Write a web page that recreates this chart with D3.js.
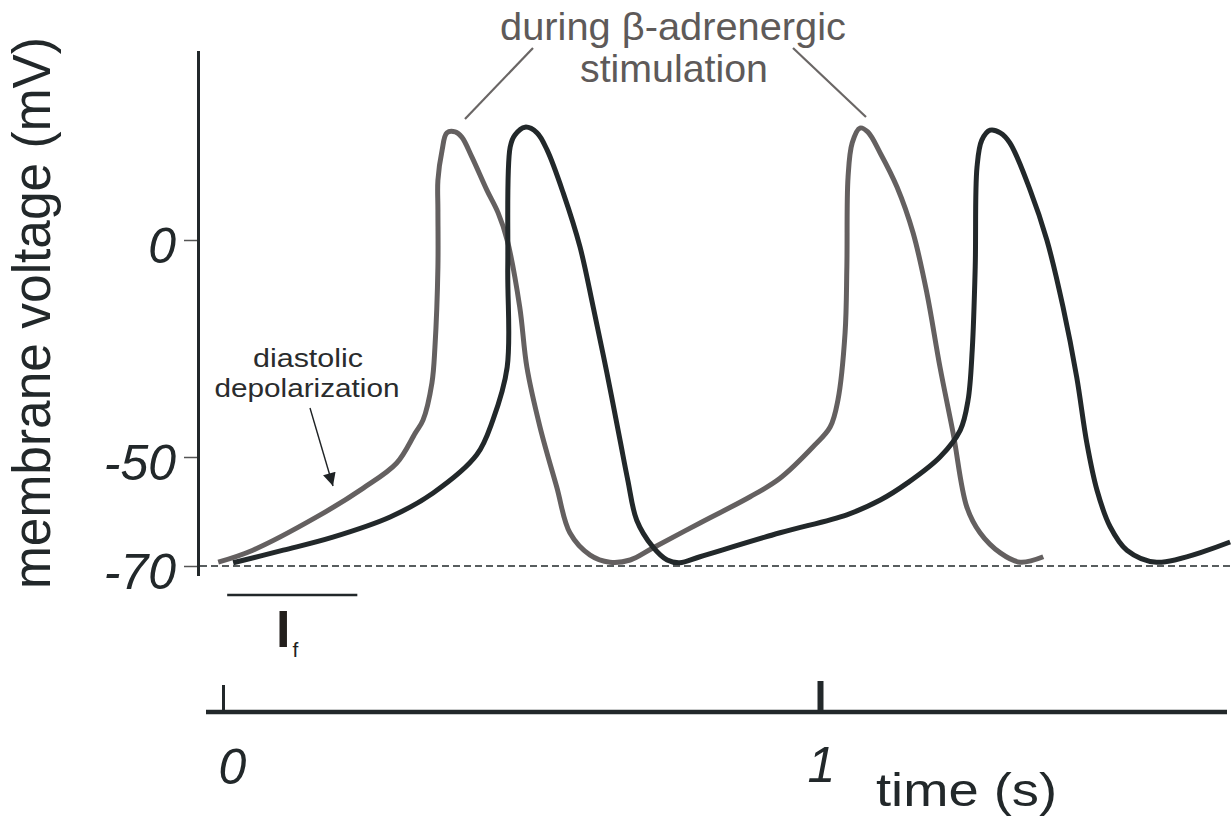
<!DOCTYPE html>
<html>
<head>
<meta charset="utf-8">
<script src="https://cdn.jsdelivr.net/npm/d3@7"></script>
<style>
  body { margin: 0; background: #fff; }
  svg { display: block; font-family: "Liberation Sans", Arial, sans-serif; }
</style>
</head>
<body>
<script>
// data (time in s, voltage in mV)

const betaTime = [-0.008, 0.050, 0.157, 0.235, 0.291, 0.322, 0.335, 0.350, 0.355, 0.360, 0.360, 0.360, 0.367, 0.375, 0.389, 0.400, 0.417, 0.442, 0.461, 0.476, 0.497, 0.509, 0.531, 0.559, 0.581, 0.615, 0.648, 0.682, 0.720, 0.799, 0.883, 0.933, 0.988, 1.017, 1.030, 1.042, 1.045, 1.047, 1.054, 1.067, 1.080, 1.101, 1.129, 1.156, 1.179, 1.201, 1.223, 1.246, 1.268, 1.302, 1.335, 1.374]
const betaVoltage = [-69.3, -67.1, -61.0, -55.7, -51.1, -44.5, -41.5, -32.9, -24.7, -6.2, 6.9, 13.8, 20.7, 24.7, 24.9, 23.7, 19.1, 11.5, 6.2, 0, -15.4, -29.3, -43.1, -55.5, -63.9, -68.0, -69.3, -68.9, -66.7, -62.1, -57.3, -53.9, -47.7, -43.1, -36.9, -21.4, -6.2, 14.5, 22.4, 25.8, 24.9, 20.0, 12.2, 1.6, -12.2, -29.3, -44.5, -59.2, -63.9, -67.6, -69.3, -68.3]

const controlTime = [0.017, 0.101, 0.184, 0.280, 0.352, 0.425, 0.452, 0.476, 0.477, 0.481, 0.489, 0.506, 0.526, 0.543, 0.570, 0.598, 0.620, 0.643, 0.665, 0.678, 0.693, 0.720, 0.744, 0.765, 0.799, 0.933, 1.045, 1.101, 1.146, 1.201, 1.235, 1.248, 1.255, 1.260, 1.263, 1.271, 1.285, 1.302, 1.318, 1.352, 1.380, 1.407, 1.430, 1.447, 1.464, 1.486, 1.514, 1.564, 1.687]
const controlVoltage = [-69.4, -67.1, -64.7, -61.0, -56.6, -49.5, -41.5, -29.3, -6.2, 21.4, 24.2, 26.0, 24.7, 20.7, 10.8, -1.6, -15.4, -30.6, -46.1, -54.2, -61.6, -66.5, -68.9, -69.4, -68.3, -63.9, -60.6, -57.9, -54.8, -50.0, -43.8, -36.9, -25.3, -6.2, 16.8, 23.0, 25.3, 24.7, 22.4, 11.5, 0, -15.4, -31.6, -46.8, -56.1, -62.8, -67.1, -69.3, -65.6]

const yTickValues = [0, -50, -70]
const xTickValues = [0, 1]
const restingPotential = -70

const W = 1231, H = 820
const dark = "#22282a", grey = "#646060"

const svg = d3.select("body").append("svg").attr("width", W).attr("height", H)

// scales (the y axis of the figure is drawn compressed above -50 mV)
const x = d3.scaleLinear().domain([0, 1]).range([223, 820])
const y = d3.scaleLinear().domain([-70, -50, 0, 30]).range([566, 457, 240, 109.8])

// resting potential dashed line
svg.append("line")
  .attr("x1", 200).attr("x2", W)
  .attr("y1", y(restingPotential)).attr("y2", y(restingPotential))
  .attr("stroke", dark).attr("stroke-width", 1.5).attr("stroke-dasharray", "7,4")

// y axis
svg.append("line").attr("x1", 198.5).attr("x2", 198.5).attr("y1", 51).attr("y2", 576)
  .attr("stroke", dark).attr("stroke-width", 3)

const yAxis = svg.append("g").attr("transform", "translate(197,0)")
  .call(d3.axisLeft(y).tickValues(yTickValues).tickSize(13).tickPadding(8).tickFormat(d => String(d)))
yAxis.select(".domain").remove()
yAxis.selectAll(".tick line").attr("stroke", "#555").attr("stroke-width", 1.5)
yAxis.selectAll(".tick text")
  .attr("font-size", 50).attr("font-style", "italic").attr("fill", dark)
  .attr("font-family", "Liberation Sans, Arial, sans-serif").attr("dy", "0.45em")

svg.append("text")
  .attr("transform", "translate(50,313) rotate(-90)")
  .attr("text-anchor", "middle")
  .attr("font-size", 54).attr("fill", dark)
  .attr("textLength", 552).attr("lengthAdjust", "spacingAndGlyphs")
  .text("membrane voltage (mV)")

// time axis
svg.append("line").attr("x1", 206).attr("x2", 1227).attr("y1", 712).attr("y2", 712)
  .attr("stroke", dark).attr("stroke-width", 4.5)

const xAxis = svg.append("g").attr("transform", "translate(0,712)")
  .call(d3.axisBottom(x).tickValues(xTickValues).tickSize(-29).tickPadding(36).tickFormat(d3.format("d")))
xAxis.select(".domain").remove()
xAxis.selectAll(".tick line").attr("stroke", dark).attr("stroke-width", (d, i) => i ? 6 : 3)
  .attr("y2", (d, i) => i ? -31 : -27)
xAxis.selectAll(".tick text")
  .attr("font-size", 50).attr("font-style", "italic").attr("fill", dark)
  .attr("font-family", "Liberation Sans, Arial, sans-serif")
  .attr("dx", (d, i) => i ? "0.02em" : "0.18em")
  .attr("dy", (d, i) => i ? "0.68em" : "0.71em")

svg.append("text").attr("x", 876).attr("y", 806)
  .attr("font-size", 46).attr("fill", dark)
  .attr("textLength", 181).attr("lengthAdjust", "spacingAndGlyphs")
  .text("time (s)")

// traces
const line = d3.line()
  .x(d => x(d[0]))
  .y(d => y(d[1]))
  .curve(d3.curveCatmullRom.alpha(0.5))

const betaData = betaTime.map((t, i) => [t, betaVoltage[i]])
const controlData = controlTime.map((t, i) => [t, controlVoltage[i]])

svg.append("path").datum(betaData).attr("d", line)
  .attr("fill", "none").attr("stroke", grey).attr("stroke-width", 5)
  .attr("stroke-linejoin", "round")
svg.append("path").datum(controlData).attr("d", line)
  .attr("fill", "none").attr("stroke", dark).attr("stroke-width", 5)
  .attr("stroke-linejoin", "round")

// annotations
const ann = svg.append("g").attr("fill", "#5e5a59").attr("font-size", 39).attr("text-anchor", "middle")
  .attr("lengthAdjust", "spacingAndGlyphs")
ann.append("text").attr("x", 673).attr("y", 40).attr("textLength", 346).attr("lengthAdjust", "spacingAndGlyphs")
  .text("during β-adrenergic")
ann.append("text").attr("x", 674).attr("y", 82).attr("textLength", 188).attr("lengthAdjust", "spacingAndGlyphs")
  .text("stimulation")
svg.append("line").attr("x1", 533).attr("y1", 48).attr("x2", 465).attr("y2", 119)
  .attr("stroke", "#6a6665").attr("stroke-width", 2.2)
svg.append("line").attr("x1", 793).attr("y1", 48).attr("x2", 866).attr("y2", 117)
  .attr("stroke", "#6a6665").attr("stroke-width", 2.2)

const dia = svg.append("g").attr("fill", "#2a2c2d").attr("font-size", 25).attr("text-anchor", "middle")
dia.append("text").attr("x", 308).attr("y", 367)
  .attr("textLength", 110).attr("lengthAdjust", "spacingAndGlyphs").text("diastolic")
dia.append("text").attr("x", 307).attr("y", 397)
  .attr("textLength", 185).attr("lengthAdjust", "spacingAndGlyphs").text("depolarization")

svg.append("defs").append("marker")
  .attr("id", "arrow").attr("viewBox", "0 0 10 10").attr("refX", 10).attr("refY", 5)
  .attr("markerUnits", "userSpaceOnUse").attr("markerWidth", 16).attr("markerHeight", 13)
  .attr("orient", "auto")
  .append("path").attr("d", "M0,0L10,5L0,10Z").attr("fill", "#1e2224")
svg.append("line").attr("x1", 310).attr("y1", 408).attr("x2", 333).attr("y2", 486)
  .attr("stroke", "#1e2224").attr("stroke-width", 1.4).attr("marker-end", "url(#arrow)")

// I_f bar
svg.append("line").attr("x1", x(0.007)).attr("x2", x(0.225)).attr("y1", 595).attr("y2", 595)
  .attr("stroke", dark).attr("stroke-width", 2.5)
const iF = svg.append("text").attr("x", 276).attr("y", 647).attr("fill", "#231f1c").attr("font-size", 52)
iF.append("tspan").attr("font-weight", "bold").text("I")
iF.append("tspan").attr("font-size", 21).attr("dx", 2).attr("dy", 10).text("f")
</script>
</body>
</html>
